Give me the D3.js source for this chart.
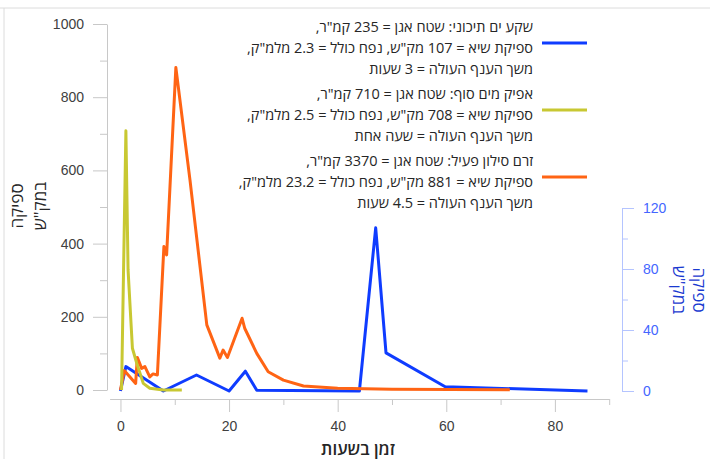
<!DOCTYPE html>
<html>
<head>
<meta charset="utf-8">
<script src="https://cdn.jsdelivr.net/npm/d3@7"></script>
<style>
  body { margin: 0; background: #fff; }
  svg { display: block; font-family: "Open Sans", "DejaVu Sans", sans-serif; }
  .axis path, .axis line { stroke: #c8c8c8; }
  .axis text { fill: #404040; font-size: 14px; }
  .axis-right path, .axis-right line { stroke: #b4c4ff; }
  .axis-right text { fill: #4466ff; font-size: 14px; }
  .series { fill: none; stroke-width: 3; stroke-linejoin: round; }
</style>
</head>
<body>
<svg id="chart" width="710" height="459"></svg>
<script>
// Hours / discharge (m3/s) per flood
const mediterraneanT = [0, 1, 7.9, 14, 20, 23, 25.1, 43.8, 44, 47, 48.9, 59.8, 86];
const mediterraneanQ = [0, 16, 0, 10.5, 0, 13, 0.5, 0, 0, 107, 25, 2.8, 0];

const yamSufT = [0.2, 1, 1.4, 2.2, 3, 4.2, 5.4, 7.9, 11.3];
const yamSufQ = [0, 708, 328, 114, 73, 18, 5, 0, 0];

const silonT = [0, 0.7, 2.8, 3.1, 3.9, 4.5, 5.4, 6, 6.8, 8, 8.5, 10.2, 12.8, 15.9, 18.3, 18.9, 19.7,
  22.4, 22.9, 25.1, 27.2, 30, 33.7, 40, 50, 71.7];
const silonQ = [0, 53, 18, 89, 59, 64, 36, 44, 41, 392, 369, 881, 574, 178, 87, 109, 89,
  196, 168, 100, 50, 27, 11, 5, 2, 1];

const legendLines = [
  ['שקע ים תיכוני: שטח אגן = 235 קמ"ר,', 'ספיקת שיא = 107 מק"ש, נפח כולל = 2.3 מלמ"ק,', 'משך הענף העולה = 3 שעות'],
  ['אפיק מים סוף: שטח אגן = 710 קמ"ר,', 'ספיקת שיא = 708 מק"ש, נפח כולל = 2.5 מלמ"ק,', 'משך הענף העולה = שעה אחת'],
  ['זרם סילון פעיל: שטח אגן = 3370 קמ"ר,', 'ספיקת שיא = 881 מק"ש, נפח כולל = 23.2 מלמ"ק,', 'משך הענף העולה = 4.5 שעות'],
];

const xTicks = [0, 20, 40, 60, 80];
const xMinorTicks = [10, 30, 50, 70, 90];
const leftTicks = [0, 200, 400, 600, 800, 1000];
const leftMinorTicks = [100, 300, 500, 700, 900];
const rightTicks = [0, 40, 80, 120];
const rightMinorTicks = [20, 60, 100];

const colors = { blue: '#0f3cff', yellow: '#c8c832', orange: '#ff6414' };

const svg = d3.select('#chart');

// Frame lines (top + left only)
svg.append('line').attr('x1', 0).attr('x2', 710).attr('y1', 8).attr('y2', 8)
  .attr('stroke', '#dcdcdc');
svg.append('line').attr('x1', 4).attr('x2', 4).attr('y1', 8).attr('y2', 459)
  .attr('stroke', '#dcdcdc');

const x = d3.scaleLinear().domain([-2, 90]).range([109.6, 609.2]);
const yLeft = d3.scaleLinear().domain([0, 1000]).range([390, 24]);
const yRight = d3.scaleLinear().domain([0, 120]).range([391, 208]);

// X axis
const xAxisG = svg.append('g').attr('class', 'axis').attr('transform', 'translate(0,399)');
xAxisG.call(d3.axisBottom(x).tickValues(xMinorTicks).tickSize(6).tickSizeOuter(0).tickFormat(''));
xAxisG.append('g')
  .call(d3.axisBottom(x).tickValues(xTicks).tickSize(13).tickPadding(9).tickFormat(d3.format('d')))
  .select('.domain').remove();

// Left axis
const yLeftG = svg.append('g').attr('class', 'axis').attr('transform', 'translate(107,0)');
yLeftG.call(d3.axisLeft(yLeft).tickValues(leftMinorTicks).tickSize(7).tickSizeOuter(0).tickFormat(''));
yLeftG.append('g')
  .call(d3.axisLeft(yLeft).tickValues(leftTicks).tickSize(14).tickPadding(9).tickFormat(d3.format('d')))
  .select('.domain').remove();

// Right axis
const yRightG = svg.append('g').attr('class', 'axis-right').attr('transform', 'translate(622,0)');
yRightG.call(d3.axisRight(yRight).tickValues(rightMinorTicks).tickSize(6).tickSizeOuter(0).tickFormat(''));
yRightG.append('g')
  .call(d3.axisRight(yRight).tickValues(rightTicks).tickSize(12).tickPadding(9).tickFormat(d3.format('d')))
  .select('.domain').remove();

// Axis titles
svg.append('text')
  .attr('x', 358).attr('y', 455)
  .attr('text-anchor', 'middle')
  .style('font-size', '17px').style('font-weight', 600).attr('fill', '#262626')
  .text('זמן בשעות');

const leftTitle = svg.append('text')
  .attr('transform', 'translate(0,206) rotate(-90)')
  .attr('text-anchor', 'middle')
  .style('font-size', '17px').attr('fill', '#262626');
leftTitle.append('tspan').attr('x', 0).attr('y', 23).text('ספיקה');
leftTitle.append('tspan').attr('x', 0).attr('y', 46).text('במק"ש');

const rightTitle = svg.append('text')
  .attr('transform', 'translate(706,290) rotate(90)')
  .attr('text-anchor', 'middle')
  .style('font-size', '17px').attr('fill', '#1a3ad0');
rightTitle.append('tspan').attr('x', 0).attr('y', 13).text('ספיקה');
rightTitle.append('tspan').attr('x', 0).attr('y', 33).text('במק"ש');

// Series
const toPoints = (ts, qs) => ts.map((t, i) => ({ t, q: qs[i] }));

const lineLeft = d3.line().x((d) => x(d.t)).y((d) => yLeft(d.q));
const lineRight = d3.line().x((d) => x(d.t)).y((d) => yRight(d.q));

svg.append('path').attr('class', 'series')
  .attr('stroke', colors.blue)
  .attr('d', lineRight(toPoints(mediterraneanT, mediterraneanQ)));

svg.append('path').attr('class', 'series')
  .attr('stroke', colors.orange)
  .attr('d', lineLeft(toPoints(silonT, silonQ)));

svg.append('path').attr('class', 'series')
  .attr('stroke', colors.yellow)
  .attr('d', lineLeft(toPoints(yamSufT, yamSufQ)));

// Legend
const legendColors = [colors.blue, colors.yellow, colors.orange];
const legend = svg.append('g');
legendLines.forEach((lines, i) => {
  const midY = 48 + i * 67;
  legend.append('line')
    .attr('x1', 542).attr('x2', 587)
    .attr('y1', midY - 5).attr('y2', midY - 5)
    .attr('stroke', legendColors[i]).attr('stroke-width', 3);
  const txt = legend.append('text')
    .attr('direction', 'rtl')
    .attr('text-anchor', 'start')
    .style('font-size', '14.5px').attr('fill', '#262626');
  lines.forEach((s, j) => {
    txt.append('tspan')
      .attr('x', 533)
      .attr('y', midY + (j - 1) * 21 + 5)
      .text(s);
  });
});
</script>
</body>
</html>
